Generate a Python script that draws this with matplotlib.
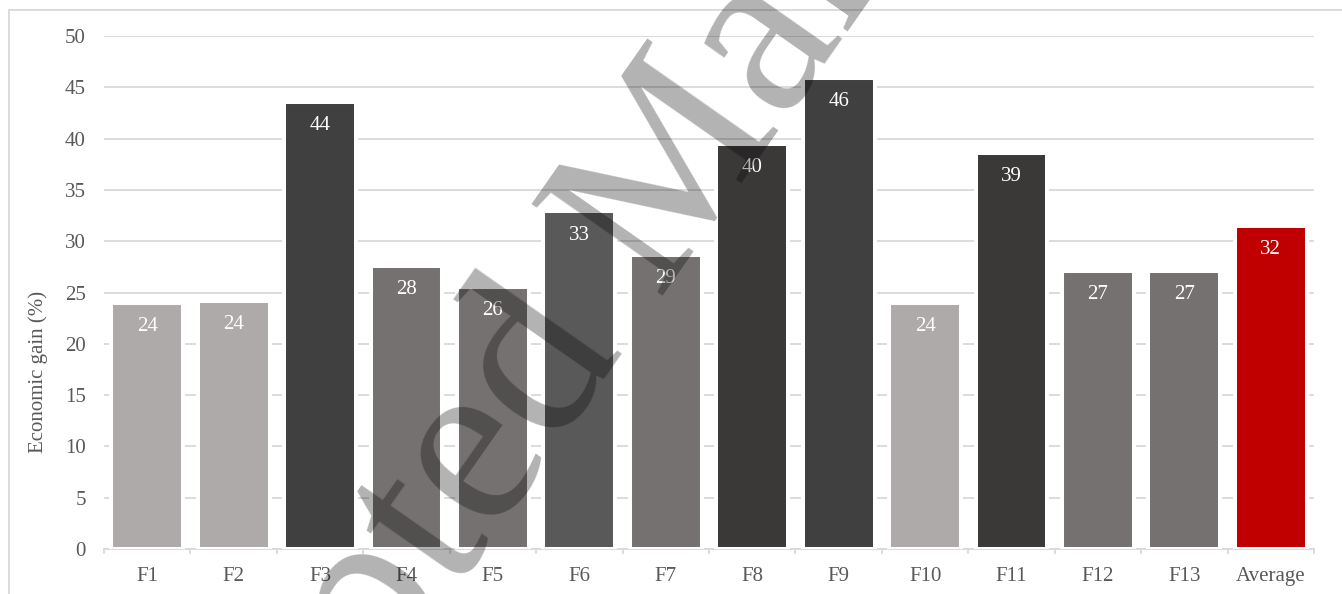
import matplotlib.pyplot as plt
from matplotlib.patches import Rectangle

categories = ['F1', 'F2', 'F3', 'F4', 'F5', 'F6', 'F7', 'F8', 'F9',
              'F10', 'F11', 'F12', 'F13', 'Average']
gain = [24.0, 24.2, 43.6, 27.6, 25.5, 32.9, 28.7, 39.5, 45.9,
        24.0, 38.6, 27.1, 27.1, 31.5]
bar_colors = ['#aeaaaa', '#aeaaaa', '#404040', '#767171', '#767171', '#595959',
              '#767171', '#3b3838', '#404040', '#aeaaaa', '#3b3838', '#767171',
              '#767171', '#c00000']
yticks = list(range(0, 51, 5))

plt.rcParams['font.family'] = ['Liberation Serif', 'DejaVu Serif']

W, H = 1342, 594
fig = plt.figure(figsize=(W / 100, H / 100), dpi=100)
ax = fig.add_axes([104 / W, 1 - 549 / H, 1210 / W, 513 / H])

x = list(range(len(categories)))
ax.bar(x, gain, width=0.83, color=bar_colors, edgecolor='white',
       linewidth=2.9, zorder=3)

for i, v in enumerate(gain):
    ax.annotate(f"{int(v + 0.5)}", (i, v), xytext=(0, -17),
                textcoords='offset points', ha='center', va='center',
                color='white', fontsize=15, zorder=4)

ax.set_xlim(-0.5, len(categories) - 0.5)
ax.set_ylim(0, 50)
ax.set_yticks(yticks)
ax.set_xticks(x)
ax.set_xticklabels(categories)
ax.set_xticks([i - 0.5 for i in range(len(categories) + 1)], minor=True)
ax.yaxis.grid(True, color='#d9d9d9', linewidth=1.3)
ax.set_axisbelow(True)

for side in ['top', 'left', 'right']:
    ax.spines[side].set_visible(False)
ax.spines['bottom'].set_color('#d9d9d9')
ax.spines['bottom'].set_linewidth(1.3)

ax.tick_params(axis='x', which='major', length=0, pad=13,
               labelsize=15, labelcolor='#595959')
ax.tick_params(axis='x', which='minor', length=3.6, width=1.3,
               color='#d9d9d9', direction='out')
ax.tick_params(axis='y', length=0, pad=13, labelsize=15, labelcolor='#595959')

fig.text(38 / W, 1 - 372 / H, 'Economic gain (%)', rotation=90,
         ha='center', va='center', fontsize=15, color='#595959')

# light frame round the chart area
fig.patches.append(Rectangle((9 / W, -0.1), 1.2, 1.1 - 10 / H,
                             transform=fig.transFigure, fill=False,
                             edgecolor='#d9d9d9', linewidth=1.3))

# diagonal watermark over everything
fig.text(98 / W, 1 - 1102 / H, 'Accepted Manuscript', rotation=55,
         rotation_mode='anchor', ha='left', va='baseline', fontsize=175,
         color='black', alpha=0.3, zorder=10)

fig.savefig('out.png', dpi=100)
